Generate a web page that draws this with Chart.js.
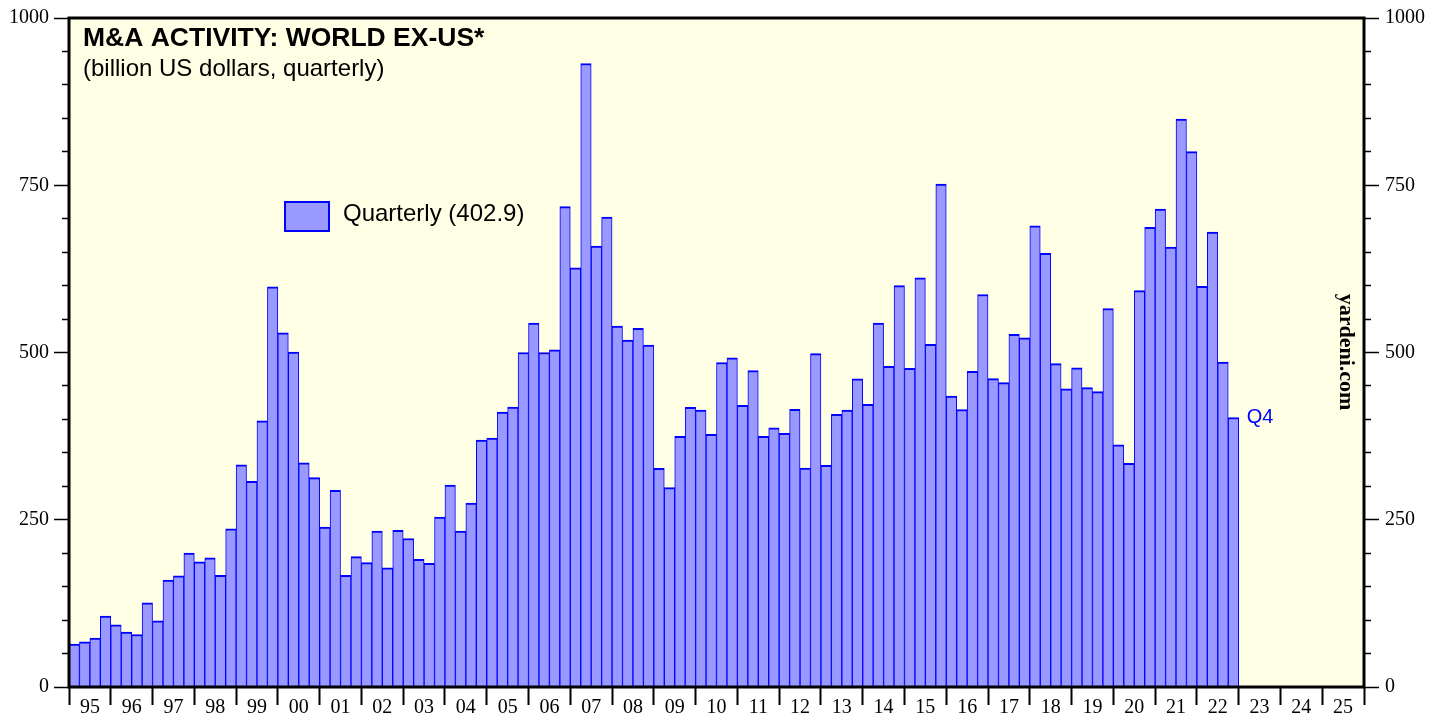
<!DOCTYPE html>
<html>
<head>
<meta charset="utf-8">
<script src="https://cdn.jsdelivr.net/npm/chart.js@4.4.1/dist/chart.umd.min.js"></script>
<style>
  html, body { margin: 0; padding: 0; background: #fff; }
  #wrap { width: 1446px; height: 721px; }
</style>
</head>
<body>
<div id="wrap"><canvas id="mnaChart" width="1446" height="721"></canvas></div>
<script>
// M&A activity, world ex-US (billion US dollars), quarterly from 1995 Q1 to 2022 Q4
const firstYear = 1995;
const lastYear = 2025;
const quarterly = [
  64, 67.5, 73, 106,        // 95
  93, 82, 78.5, 126,        // 96
  99, 160, 166, 200,        // 97
  187, 193, 167, 236.5,     // 98
  332, 307.5, 398, 598,     // 99
  529.5, 500.7, 335, 313,   // 00
  239, 294, 167, 195,       // 01
  186, 233, 178, 234,       // 02
  222, 191, 185, 254,       // 03
  302, 233, 275, 369,       // 04
  372, 411, 418.5, 500,     // 05
  544, 500, 504, 718,       // 06
  626.5, 932, 659, 702.5,   // 07
  539.5, 518.6, 536, 511,   // 08
  327, 298, 374.6, 418,     // 09
  414, 377.5, 485, 492,     // 10
  421, 473, 374.6, 387.5,   // 11
  379, 415, 327.4, 498.3,   // 12
  331.3, 407.4, 413.8, 460.5, // 13
  422.7, 544, 479.4, 600,   // 14
  476.4, 611.5, 512.2, 751.6, // 15
  434.7, 414.8, 472, 586.7, // 16
  461, 455, 527, 522,       // 17
  689.5, 648.3, 483.3, 445.6, // 18
  477, 447.6, 441.6, 565.8, // 19
  362, 334.3, 592.6, 687,   // 20
  714.3, 657.7, 849, 800.3, // 21
  599, 680, 485.8, 402.9    // 22
];
const yearLabels = ['95','96','97','98','99','00','01','02','03','04','05','06','07','08','09','10',
                    '11','12','13','14','15','16','17','18','19','20','21','22','23','24','25'];
const yMajorTicks = [0, 250, 500, 750, 1000];
const titleText = 'M&A ACTIVITY: WORLD EX-US*';
const subtitleText = '(billion US dollars, quarterly)';
const legendLabel = 'Quarterly (402.9)';
const lastQuarterLabel = 'Q4';
const sourceText = 'yardeni.com';

const barData = quarterly.map((v, i) => ({ x: firstYear + (i + 0.5) / 4, y: v }));

const serif = '"Liberation Serif", "Times New Roman", serif';
const sans = '"Liberation Sans", Arial, sans-serif';

function isMajor(ctx) {
  return ctx.tick && yMajorTicks.includes(ctx.tick.value);
}

const overlay = {
  id: 'overlay',
  beforeDraw(chart) {
    const { ctx, chartArea: a } = chart;
    ctx.save();
    ctx.fillStyle = 'rgb(255,255,229)';
    ctx.fillRect(a.left, a.top, a.width, a.height);
    ctx.restore();
  },
  afterDatasetsDraw(chart) {
    const { ctx, chartArea: a, scales } = chart;
    const ds = chart.data.datasets[0];
    ctx.save();

    // frame
    ctx.strokeStyle = '#000';
    ctx.lineWidth = 3;
    ctx.strokeRect(a.left, a.top, a.width, a.height);

    // title + subtitle
    ctx.fillStyle = '#000';
    ctx.textAlign = 'left';
    ctx.textBaseline = 'alphabetic';
    ctx.font = 'bold 26.5px ' + sans;
    ctx.fillText(titleText, a.left + 14, a.top + 28);
    ctx.font = '24px ' + sans;
    ctx.fillText(subtitleText, a.left + 14, a.top + 58);

    // legend
    ctx.fillStyle = ds.backgroundColor;
    ctx.fillRect(a.left + 216, a.top + 184, 44, 29);
    ctx.strokeStyle = ds.borderColor;
    ctx.lineWidth = 2;
    ctx.strokeRect(a.left + 216, a.top + 184, 44, 29);
    ctx.fillStyle = '#000';
    ctx.font = '24px ' + sans;
    ctx.fillText(legendLabel, a.left + 274, a.top + 203);

    // last value label
    const lastX = scales.x.getPixelForValue(firstYear + quarterly.length / 4);
    const lastY = scales.y.getPixelForValue(quarterly[quarterly.length - 1]);
    ctx.fillStyle = '#0000ff';
    ctx.font = '20px ' + sans;
    ctx.textBaseline = 'middle';
    ctx.fillText(lastQuarterLabel, lastX + 8, lastY);

    // source, rotated
    ctx.translate(a.right - 18, a.top + 334);
    ctx.rotate(Math.PI / 2);
    ctx.textAlign = 'center';
    ctx.fillStyle = '#000';
    ctx.font = 'bold 22px ' + serif;
    ctx.fillText(sourceText, 0, 0);
    ctx.restore();
  }
};

const yTicks = {
  stepSize: 50,
  autoSkip: false,
  padding: 5,
  color: '#000',
  font: { family: serif, size: 20 },
  callback: v => yMajorTicks.includes(v) ? String(v) : ''
};

new Chart(document.getElementById('mnaChart'), {
  type: 'bar',
  data: {
    datasets: [{
      label: legendLabel,
      data: barData,
      backgroundColor: '#9999ff',
      borderColor: '#0000ff',
      borderWidth: { top: 2, left: 1, right: 1, bottom: 0 },
      borderSkipped: false,
      barPercentage: 1,
      categoryPercentage: 1
    }]
  },
  options: {
    responsive: false,
    animation: false,
    layout: { padding: { top: 16 } },
    plugins: {
      legend: { display: false },
      title: { display: false },
      tooltip: { enabled: false }
    },
    scales: {
      x: {
        type: 'linear',
        min: firstYear,
        max: lastYear + 1,
        offset: false,
        afterBuildTicks: scale => {
          const t = [];
          for (let v = firstYear; v <= lastYear + 1; v += 0.5) t.push({ value: v });
          scale.ticks = t;
        },
        afterFit: s => { s.height = 34; },
        border: { display: false },
        grid: {
          offset: false,
          drawOnChartArea: false,
          tickLength: 18,
          tickWidth: 2,
          tickColor: c => (c.tick && c.tick.value % 1 === 0) ? '#000' : 'rgba(0,0,0,0)'
        },
        ticks: {
          autoSkip: false,
          maxRotation: 0,
          minRotation: 0,
          padding: -9,
          color: '#000',
          font: { family: serif, size: 20 },
          callback: v => (v % 1 === 0.5) ? yearLabels[Math.floor(v) - firstYear] : ''
        }
      },
      y: {
        position: 'left',
        min: 0,
        max: 1000,
        afterFit: s => { s.width = 69; },
        border: { display: false },
        grid: {
          drawOnChartArea: false,
          tickLength: 15,
          tickWidth: 1.5,
          tickColor: '#000',
          tickBorderDash: c => isMajor(c) ? [] : [7, 8],
          tickBorderDashOffset: c => isMajor(c) ? 0 : 7
        },
        ticks: yTicks
      },
      y2: {
        position: 'right',
        min: 0,
        max: 1000,
        afterFit: s => { s.width = 82; },
        border: { display: false },
        grid: {
          drawOnChartArea: false,
          tickLength: 15,
          tickWidth: 1.5,
          tickColor: '#000',
          tickBorderDash: c => isMajor(c) ? [] : [7, 8],
          tickBorderDashOffset: 0
        },
        ticks: Object.assign({}, yTicks, { padding: 6 })
      }
    }
  },
  plugins: [overlay]
});
</script>
</body>
</html>
